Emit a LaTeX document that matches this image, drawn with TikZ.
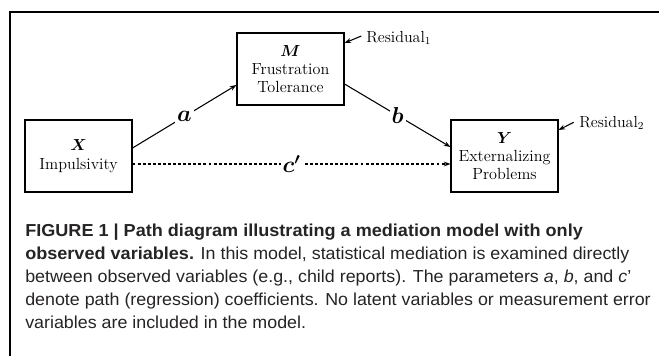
\documentclass[tikz,border=0pt]{standalone}
\usepackage{amsmath}
\usepackage{fontspec}
\newfontfamily\capfont[FakeStretch=1.03]{Liberation Sans}
\newfontfamily\capbf[FakeStretch=1.043]{Liberation Sans Bold}
\newcommand\capbold[1]{{\capbf #1}}
\usetikzlibrary{arrows.meta}
\definecolor{captext}{RGB}{38,35,35}
\tikzset{
  varbox/.style={draw, line width=0.8pt, minimum width=80.25pt, minimum height=54pt,
    align=center, inner sep=0pt, font=\fontsize{12.1}{13.8}\selectfont},
  path/.style={line width=0.8pt, -{Stealth[length=5pt,width=3.6pt]}},
  dpath/.style={path, dash pattern=on 2.2pt off 1.6pt},
  coef/.style={fill=white, inner sep=1.5pt, font=\fontsize{16.5}{18}\selectfont},
  resid/.style={anchor=west, inner sep=0pt, font=\fontsize{12}{13}\selectfont},
  capline/.style={anchor=base west, inner sep=0pt, text=captext,
    font=\capfont\fontsize{13}{14}\selectfont},
}
\begin{document}
\begin{tikzpicture}[x=0.75pt, y=-0.75pt]
\useasboundingbox (0,0) rectangle (659,356);
% frame rule along the top and left
\draw[line width=1.5pt] (10,356) -- (10,12) -- (659,12);

% variables
\node[varbox] (X) at (78.5,156) {$\boldsymbol{X}$\\Impulsivity};
\node[varbox] (M) at (290.5,69) {$\boldsymbol{M}$\\Frustration\\Tolerance};
\node[varbox] (Y) at (504.5,156) {$\boldsymbol{Y}$\\Externalizing\\Problems};

% paths
\draw[path] ([yshift=6pt]X.east) -- node[coef] (la) {$\boldsymbol{a}$} ([yshift=-12pt]M.west);
\draw[path] ([yshift=-11.25pt]M.east) -- node[coef] (lb) {$\boldsymbol{b}$} ([yshift=6.75pt]Y.west);
\draw[dpath] ([yshift=-6pt]X.east) -- node[coef] (lc) {$\boldsymbol{c'}$} ([yshift=-6pt]Y.west);

% residuals
\node[resid] (R1) at (366,38) {Residual$_1$};
\node[resid] (R2) at (579,123) {Residual$_2$};
\draw[path] ([xshift=-3.5pt,yshift=1.5pt]R1.west) -- ([yshift=19.5pt]M.east);
\draw[path] ([xshift=-4pt,yshift=0.5pt]R2.west) -- ([yshift=19.5pt]Y.east);

% caption
\node[capline] (c1) at (25,236) {\capbold{FIGURE 1 | Path diagram illustrating a mediation model with only}};
\node[capline] (c2) at (25,259.2) {\capbold{observed variables.} In this model, statistical mediation is examined directly};
\node[capline] (c3) at (25,282.4) {between observed variables (e.g., child reports). The parameters \textit{a}, \textit{b}, and \textit{c}’};
\node[capline] (c4) at (25,305.6) {denote path (regression) coefficients. No latent variables or measurement error};
\node[capline] (c5) at (25,328.8) {variables are included in the model.};
\end{tikzpicture}
\end{document}
